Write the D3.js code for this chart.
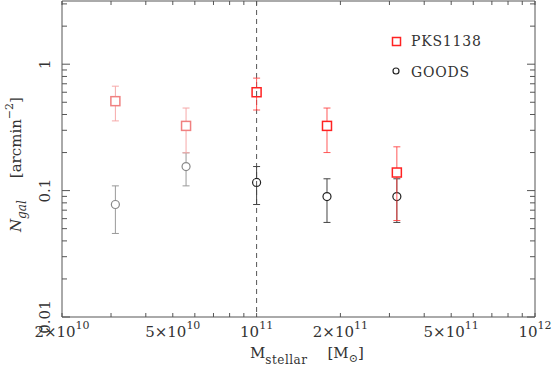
<!DOCTYPE html>
<html>
<head>
<meta charset="utf-8">
<script src="https://cdn.jsdelivr.net/npm/d3@7"></script>
<style>
  body { margin: 0; background: #fff; }
  text { font-family: "DejaVu Serif", serif; fill: #333; }
</style>
</head>
<body>
<div id="chart"></div>
<script>
// stellar mass bins (Msun)
const mass = [3.11e10, 5.58e10, 1.0e11, 1.79e11, 3.19e11];
// PKS1138 surface density and error range
const pksN  = [0.51, 0.325, 0.60, 0.325, 0.139];
const pksHi = [0.67, 0.45, 0.776, 0.45, 0.222];
const pksLo = [0.356, 0.199, 0.434, 0.20, 0.058];
// GOODS field
const goodsN  = [0.0776, 0.155, 0.116, 0.0897, 0.0897];
const goodsHi = [0.109, 0.199, 0.155, 0.124, 0.124];
const goodsLo = [0.0458, 0.109, 0.0776, 0.056, 0.056];
// bins above the completeness limit
const complete = [false, false, true, true, true];
const massLimit = 1e11;

// tick labels
const xLabelTicks = [[2, 10], [5, 10], [1, 11], [2, 11], [5, 11], [1, 12]];
const yLabelTicks = ["1", "0.1", "0.01"];

const width = 555, height = 379;
const margin = {top: 1, right: 20, bottom: 62, left: 62};

const svg = d3.select("#chart").append("svg")
    .attr("width", width)
    .attr("height", height);

const x = d3.scaleLog().domain([2e10, 1e12]).range([margin.left, width - margin.right]);
const y = d3.scaleLog().domain([0.01, Math.pow(10, 0.5)]).range([height - margin.bottom, margin.top]);

const x0 = margin.left, x1 = width - margin.right;
const y0 = height - margin.bottom, y1 = margin.top;

// minor tick values
let xTicks = [];
for (let e = 10; e <= 11; e++) for (let m = 1; m <= 9; m++) {
    const v = m * Math.pow(10, e);
    if (v >= 2e10 && v <= 1e12) xTicks.push(v);
}
xTicks.push(1e12);
let yTicks = [];
for (let e = -2; e <= 0; e++) for (let m = 1; m <= 9; m++) {
    const v = m * Math.pow(10, e);
    if (v <= Math.pow(10, 0.5)) yTicks.push(v);
}
const isDecade = v => Math.abs(Math.log10(v) - Math.round(Math.log10(v))) < 1e-6;

// frame
svg.append("line").attr("x1", x0).attr("x2", x1).attr("y1", y0).attr("y2", y0)
    .attr("stroke", "#aaa").attr("stroke-width", 2);
svg.append("line").attr("x1", x0).attr("x2", x1).attr("y1", y1).attr("y2", y1)
    .attr("stroke", "#aaa").attr("stroke-width", 2);
svg.append("line").attr("x1", x0).attr("x2", x0).attr("y1", y0).attr("y2", y1)
    .attr("stroke", "#555").attr("stroke-width", 1);
svg.append("line").attr("x1", x1).attr("x2", x1).attr("y1", y0).attr("y2", y1)
    .attr("stroke", "#555").attr("stroke-width", 1);

// x ticks on bottom and top
const xt = svg.append("g").attr("stroke", "#555").attr("stroke-width", 1);
xTicks.forEach(v => {
    xt.append("line").attr("x1", x(v)).attr("x2", x(v)).attr("y1", y0).attr("y2", y0 - 4);
    xt.append("line").attr("x1", x(v)).attr("x2", x(v)).attr("y1", y1).attr("y2", y1 + 4);
});
// y ticks on left and right
const yt = svg.append("g").attr("stroke", "#555").attr("stroke-width", 1);
yTicks.forEach(v => {
    const len = isDecade(v) ? 8 : 5;
    yt.append("line").attr("x1", x0).attr("x2", x0 + len).attr("y1", y(v)).attr("y2", y(v));
    yt.append("line").attr("x1", x1).attr("x2", x1 - len).attr("y1", y(v)).attr("y2", y(v));
});

// x tick labels
xLabelTicks.forEach(([m, e]) => {
    const t = svg.append("text")
        .attr("x", x(m * Math.pow(10, e)))
        .attr("y", 337)
        .attr("text-anchor", "middle")
        .style("font-size", "15px");
    t.append("tspan").text(m === 1 ? "10" : m + "\u00d710");
    t.append("tspan").attr("dy", -8).style("font-size", "11px").text(e);
});

// y tick labels (rotated)
[1, 0.1, 0.01].forEach((v, i) => {
    svg.append("text")
        .attr("transform", `translate(50,${y(v)}) rotate(-90)`)
        .attr("text-anchor", "middle")
        .style("font-size", "15px")
        .text(yLabelTicks[i]);
});

// mass limit line
svg.append("line")
    .attr("x1", x(massLimit)).attr("x2", x(massLimit))
    .attr("y1", y1).attr("y2", y0)
    .attr("stroke", "#555").attr("stroke-width", 1)
    .attr("stroke-dasharray", "5,4");

const cap = 3.5;
function drawSeries(vals, hi, lo, barCol, markCol, fadeBar, fadeMark, shape) {
    const g = svg.append("g");
    mass.forEach((m, i) => {
        const cx = x(m), bc = complete[i] ? barCol : fadeBar, mc = complete[i] ? markCol : fadeMark;
        const yv = y(vals[i]), yh = y(hi[i]), yl = y(lo[i]);
        const half = 4.5;
        // error bar split around marker
        g.append("line").attr("x1", cx).attr("x2", cx).attr("y1", yh).attr("y2", yv - half).attr("stroke", bc);
        g.append("line").attr("x1", cx).attr("x2", cx).attr("y1", yv + half).attr("y2", yl).attr("stroke", bc);
        g.append("line").attr("x1", cx - cap).attr("x2", cx + cap).attr("y1", yh).attr("y2", yh).attr("stroke", bc);
        g.append("line").attr("x1", cx - cap).attr("x2", cx + cap).attr("y1", yl).attr("y2", yl).attr("stroke", bc);
        if (shape === "square") {
            g.append("rect").attr("x", cx - 4.5).attr("y", yv - 4.5).attr("width", 9).attr("height", 9)
                .attr("fill", "none").attr("stroke", mc).attr("stroke-width", 1.5);
        } else {
            g.append("circle").attr("cx", cx).attr("cy", yv).attr("r", 4)
                .attr("fill", "none").attr("stroke", mc).attr("stroke-width", 1.2);
        }
    });
}
drawSeries(goodsN, goodsHi, goodsLo, "#444", "#222", "#999", "#888", "circle");
drawSeries(pksN, pksHi, pksLo, "rgba(255,60,60,0.85)", "#f22", "#f6a8a8", "#f08080", "square");

// legend
svg.append("rect").attr("x", 392.5).attr("y", 37.5).attr("width", 8).attr("height", 8)
    .attr("fill", "none").attr("stroke", "#f22").attr("stroke-width", 1.5);
svg.append("text").attr("x", 411).attr("y", 46).style("font-size", "14px")
    .style("letter-spacing", "0.8px").text("PKS1138");
svg.append("circle").attr("cx", 396).attr("cy", 71).attr("r", 3)
    .attr("fill", "none").attr("stroke", "#222").attr("stroke-width", 1.2);
svg.append("text").attr("x", 411).attr("y", 77).style("font-size", "14px")
    .style("letter-spacing", "0.8px").text("GOODS");

// x axis title
const xl = svg.append("text").attr("x", 250).attr("y", 358).style("font-size", "15px");
xl.append("tspan").text("M");
xl.append("tspan").attr("dy", 6).style("font-size", "12px").style("letter-spacing", "0.5px").text("stellar");
xl.append("tspan").attr("dy", -6).attr("dx", 20).text("[M");
xl.append("tspan").attr("dy", 4).style("font-size", "11px").text("\u2299");
xl.append("tspan").attr("dy", -4).text("]");

// y axis title
const yl = svg.append("text")
    .attr("transform", "translate(21,232) rotate(-90)")
    .style("font-size", "15px");
yl.append("tspan").style("font-style", "italic").text("N");
yl.append("tspan").attr("dy", 5).style("font-style", "italic").style("font-size", "12px").text("gal");
yl.append("tspan").attr("dy", -5).attr("dx", 22).text("[arcmin");
yl.append("tspan").attr("dy", -8).style("font-size", "11px").text("\u22122");
yl.append("tspan").attr("dy", 8).text("]");
</script>
</body>
</html>
